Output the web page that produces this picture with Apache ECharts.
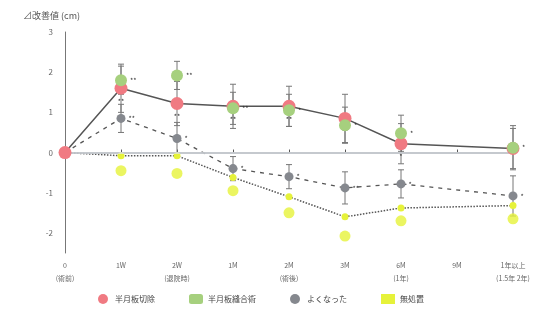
<!DOCTYPE html>
<html>
<head>
<meta charset="utf-8">
<script src="https://cdn.jsdelivr.net/npm/echarts@6/dist/echarts.min.js"></script>
<style>
  html, body { margin: 0; padding: 0; background: #ffffff; }
  #chart { width: 551px; height: 320px; }
</style>
</head>
<body>
<div id="chart"></div>
<script>
// Time points after treatment
const categories = ['0\n(術前)', '1W', '2W\n(退院時)', '1M', '2M\n(術後)', '3M', '6M\n(1年)', '9M', '1年以上\n(1.5年 2年)'];

// Mean change per group (cm)
const seriesNames = ['半月板切除', '半月板縫合術', 'よくなった', '無処置'];
const redValues = [0, 1.6, 1.22, 1.15, 1.15, 0.85, 0.22, null, 0.1];
const greenValues = [null, 1.8, 1.92, 1.1, 1.05, 0.68, 0.48, null, 0.12];
const grayValues = [0, 0.85, 0.35, -0.4, -0.6, -0.88, -0.78, null, -1.08];
const yellowValues = [0, -0.08, -0.08, -0.62, -1.1, -1.6, -1.38, null, -1.32];
const yellowLower = [null, -0.45, -0.52, -0.95, -1.5, -2.08, -1.7, null, -1.65];

// Standard deviation per time point
const redErr = [null, 0.6, 0.55, 0.55, 0.5, 0.6, 0.5, null, 0.5];
const greenErr = [null, 0.35, 0.35, 0.4, 0.4, 0.45, 0.45, null, 0.55];
const grayErr = [null, 0.35, 0.4, 0.3, 0.3, 0.4, 0.35, null, 0.5];

// Significance marks
const redMarks = ['', '**', '**', '**', '**', '**', '*', '', ''];
const greenMarks = ['', '**', '**', '**', '*', '*', '*', '', '*'];
const grayMarks = ['', '**', '*', '*', '*', '**', '*', '', '*'];

// Y axis ticks
const yMin = -2.5, yMax = 3, yStep = 0.5;

const colors = { red: '#f07a82', green: '#a6d07e', gray: '#85888e', yellow: '#e6f23a' };

function errorSeries(values, errs) {
  const data = values.map((v, i) => (v == null || errs[i] == null) ? null : [i, v - errs[i], v + errs[i]]).filter(d => d);
  return {
    type: 'custom',
    silent: true,
    z: 1,
    data: data,
    renderItem: function (params, api) {
      const x = api.value(0);
      const lo = api.coord([x, api.value(1)]);
      const hi = api.coord([x, api.value(2)]);
      const w = 3;
      return {
        type: 'group',
        children: [
          { type: 'line', shape: { x1: lo[0], y1: lo[1], x2: hi[0], y2: hi[1] }, style: { stroke: '#777', lineWidth: 1 } },
          { type: 'line', shape: { x1: lo[0] - w, y1: lo[1], x2: lo[0] + w, y2: lo[1] }, style: { stroke: '#777', lineWidth: 1 } },
          { type: 'line', shape: { x1: hi[0] - w, y1: hi[1], x2: hi[0] + w, y2: hi[1] }, style: { stroke: '#777', lineWidth: 1 } }
        ]
      };
    }
  };
}

function markLabel(marks, pos) {
  return {
    show: true,
    position: pos,
    distance: 3,
    fontSize: 7,
    color: '#333',
    formatter: p => marks[p.dataIndex] || ''
  };
}

const chart = echarts.init(document.getElementById('chart'));
chart.setOption({
  animation: false,
  textStyle: { fontFamily: '"Noto Sans CJK JP", "Noto Sans", sans-serif' },
  title: {
    text: '⊿改善値 (cm)',
    left: 18, top: 6,
    textStyle: { fontSize: 9, color: '#555', fontWeight: 'normal' }
  },
  legend: {
    bottom: 11,
    left: 93,
    itemGap: 34,
    itemWidth: 14,
    itemHeight: 10,
    textStyle: { fontSize: 8, color: '#444' },
    data: [
      { name: seriesNames[0], icon: 'circle' },
      { name: seriesNames[1], icon: 'roundRect' },
      { name: seriesNames[2], icon: 'circle' },
      { name: seriesNames[3], icon: 'rect' }
    ]
  },
  grid: { left: 65, right: 38, top: 32, bottom: 67 },
  xAxis: {
    type: 'category',
    data: categories,
    boundaryGap: false,
    axisLine: { lineStyle: { color: '#555', width: 1.5 } },
    axisTick: { show: true, inside: true, length: 3, lineStyle: { color: '#555' } },
    axisLabel: { fontSize: 7, color: '#666', lineHeight: 13, margin: 6 }
  },
  yAxis: {
    type: 'value',
    min: yMin, max: yMax, interval: yStep,
    axisLine: { show: true, lineStyle: { color: '#777', width: 1 } },
    axisTick: { show: false },
    splitLine: { show: false },
    axisLabel: {
      fontSize: 8, color: '#666', margin: 12,
      formatter: v => Number.isInteger(v) ? String(v) : ''
    }
  },
  series: [
    errorSeries(redValues, redErr),
    errorSeries(greenValues, greenErr),
    errorSeries(grayValues, grayErr),
    {
      name: seriesNames[3],
      type: 'line',
      data: yellowValues,
      connectNulls: true,
      symbol: 'circle',
      symbolSize: 7,
      itemStyle: { color: colors.yellow },
      lineStyle: { color: '#555', type: 'dotted', width: 1.5 },
      z: 2,
      markLine: {
        silent: true, symbol: 'none', label: { show: false },
        lineStyle: { color: '#dde2e8', type: 'solid', width: 1.5 },
        data: [{ yAxis: 0 }]
      }
    },
    {
      name: seriesNames[3],
      type: 'scatter',
      data: yellowLower,
      symbol: 'circle',
      symbolSize: 11,
      itemStyle: { color: colors.yellow },
      z: 3
    },
    {
      name: seriesNames[2],
      type: 'line',
      data: grayValues,
      connectNulls: true,
      symbol: 'circle',
      symbolSize: 9,
      itemStyle: { color: colors.gray },
      lineStyle: { color: '#555', type: [4, 5], width: 1.3 },
      label: markLabel(grayMarks, 'right'),
      z: 4
    },
    {
      name: seriesNames[0],
      type: 'line',
      data: redValues,
      connectNulls: true,
      symbol: 'circle',
      symbolSize: 13,
      itemStyle: { color: colors.red },
      lineStyle: { color: '#555', width: 1.5 },
      label: markLabel(redMarks, 'bottom'),
      z: 5
    },
    {
      name: seriesNames[1],
      type: 'line',
      data: greenValues,
      connectNulls: true,
      symbol: 'circle',
      symbolSize: 12,
      itemStyle: { color: colors.green },
      lineStyle: { width: 0, opacity: 0 },
      label: markLabel(greenMarks, 'right'),
      z: 6
    }
  ]
});
</script>
</body>
</html>
